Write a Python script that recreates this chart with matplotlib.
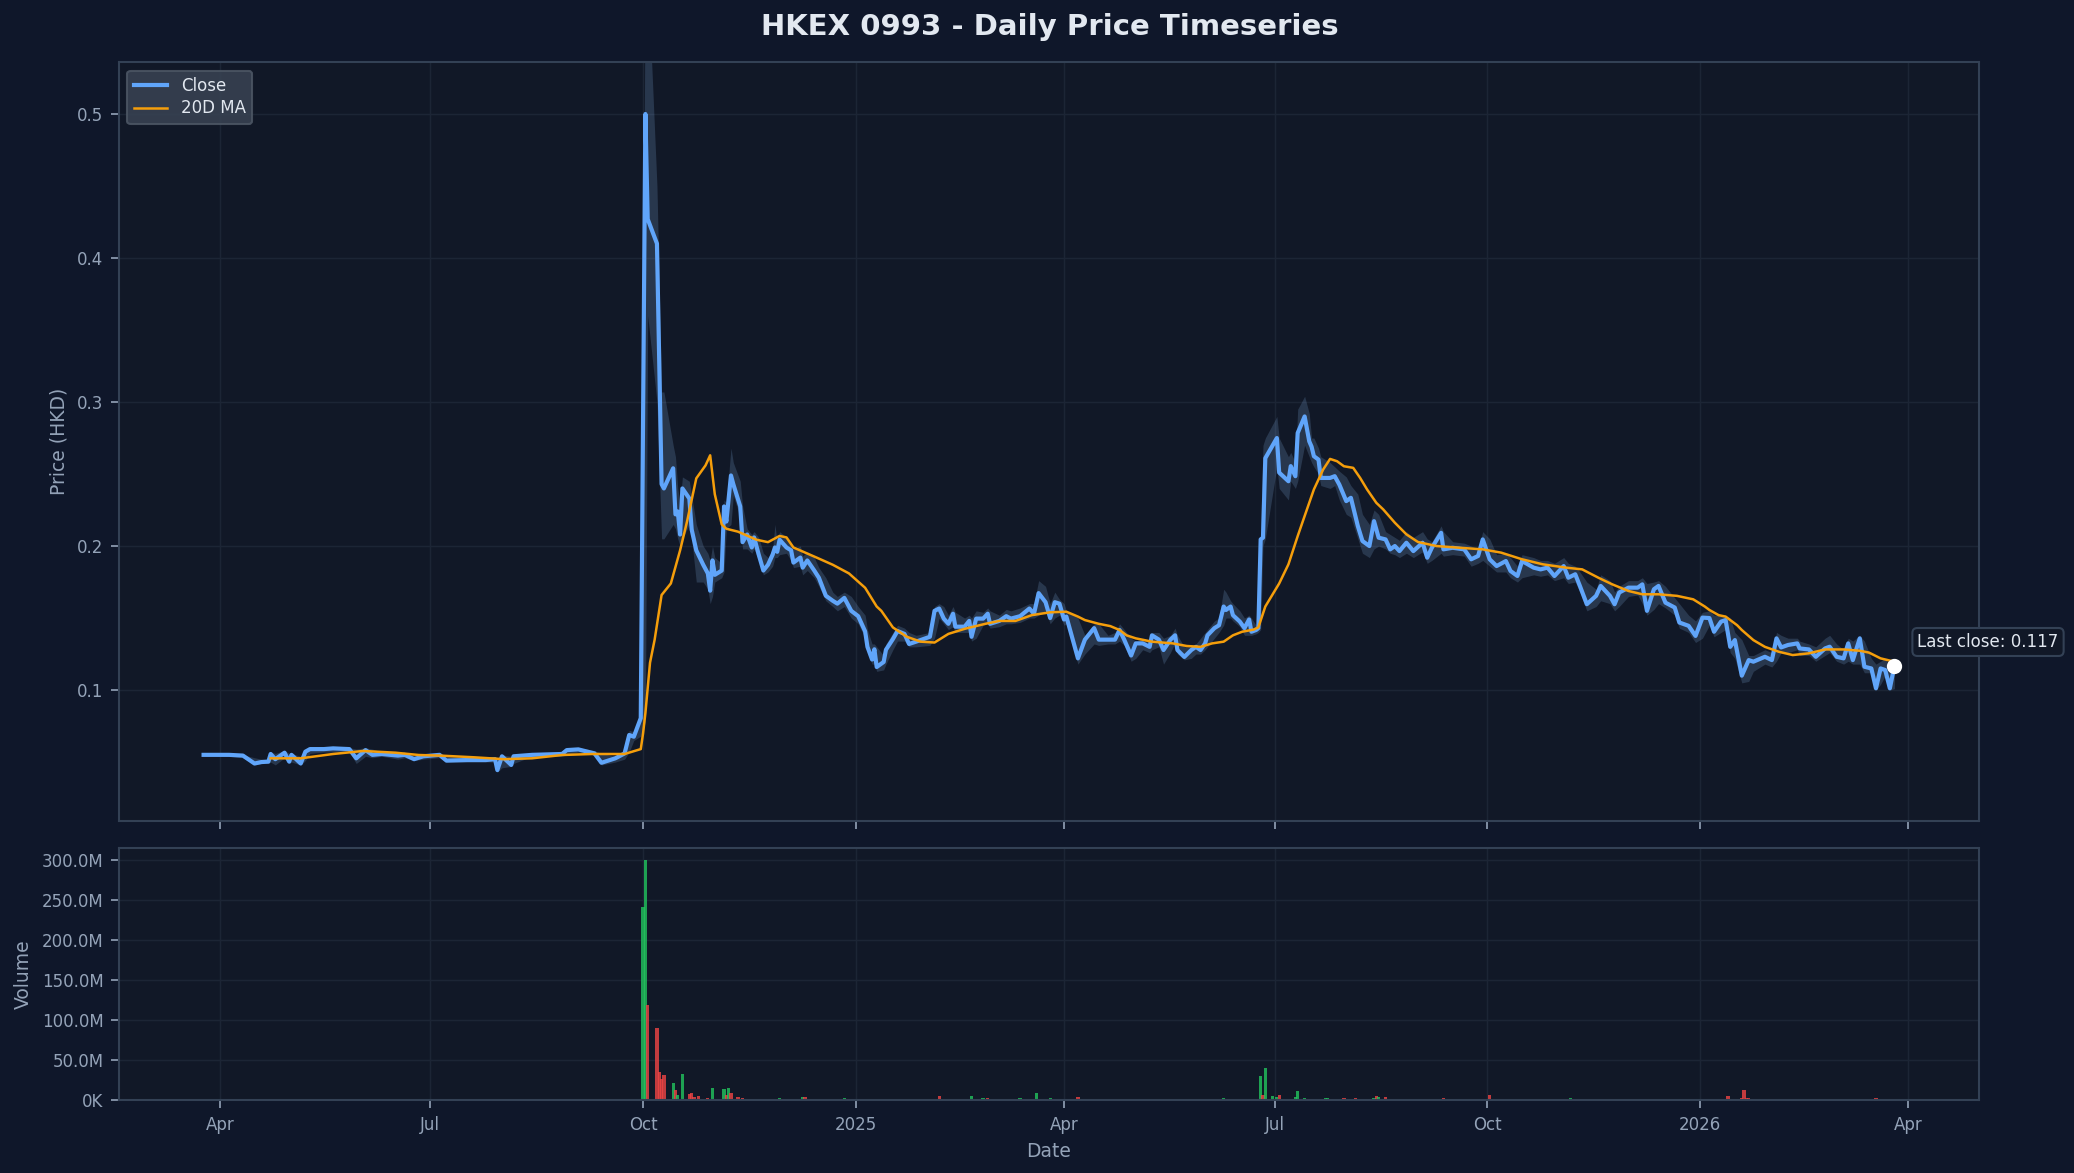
import matplotlib
matplotlib.use("Agg")
import matplotlib.pyplot as plt
import matplotlib.dates as mdates
from matplotlib.ticker import FuncFormatter
import numpy as np
import pandas as pd

# ---------------------------------------------------------------------------
# Data (HKD, volume in millions of shares)

price_dates = [
    "2024-03-25", "2024-04-05", "2024-04-11", "2024-04-16", "2024-04-19", "2024-04-22", "2024-04-23", "2024-04-25", "2024-04-29",
    "2024-05-01", "2024-05-02", "2024-05-06", "2024-05-08", "2024-05-10", "2024-05-16", "2024-05-20", "2024-05-27", "2024-05-30",
    "2024-06-03", "2024-06-06", "2024-06-10", "2024-06-17", "2024-06-20", "2024-06-24", "2024-06-28",
    "2024-07-05", "2024-07-08", "2024-07-17", "2024-07-25", "2024-07-29", "2024-07-30",
    "2024-08-01", "2024-08-05", "2024-08-06", "2024-08-14", "2024-08-27", "2024-08-29",
    "2024-09-03", "2024-09-10", "2024-09-13", "2024-09-19", "2024-09-23", "2024-09-25", "2024-09-27", "2024-09-30",
    "2024-10-02", "2024-10-03", "2024-10-07", "2024-10-09", "2024-10-10", "2024-10-14", "2024-10-15", "2024-10-16", "2024-10-17",
    "2024-10-18", "2024-10-21", "2024-10-22", "2024-10-24", "2024-10-27", "2024-10-29", "2024-10-30", "2024-10-31",
    "2024-11-01", "2024-11-04", "2024-11-05", "2024-11-06", "2024-11-08", "2024-11-09", "2024-11-12", "2024-11-13", "2024-11-15",
    "2024-11-17", "2024-11-18", "2024-11-20", "2024-11-22", "2024-11-24", "2024-11-26", "2024-11-27", "2024-11-28", "2024-11-29",
    "2024-12-02", "2024-12-04", "2024-12-05", "2024-12-08", "2024-12-09", "2024-12-11", "2024-12-14", "2024-12-16", "2024-12-19",
    "2024-12-22", "2024-12-24", "2024-12-27", "2024-12-30",
    "2025-01-02", "2025-01-05", "2025-01-06", "2025-01-08", "2025-01-09", "2025-01-10", "2025-01-13", "2025-01-14", "2025-01-17",
    "2025-01-19", "2025-01-22", "2025-01-24", "2025-01-27",
    "2025-02-02", "2025-02-04", "2025-02-06", "2025-02-08", "2025-02-10", "2025-02-12", "2025-02-13", "2025-02-17", "2025-02-19",
    "2025-02-20", "2025-02-22", "2025-02-25", "2025-02-27", "2025-02-28",
    "2025-03-04", "2025-03-07", "2025-03-09", "2025-03-13", "2025-03-17", "2025-03-19", "2025-03-21", "2025-03-24", "2025-03-26",
    "2025-03-28", "2025-03-30",
    "2025-04-01", "2025-04-02", "2025-04-07", "2025-04-10", "2025-04-14", "2025-04-16", "2025-04-20", "2025-04-23", "2025-04-25",
    "2025-04-27", "2025-04-30",
    "2025-05-02", "2025-05-05", "2025-05-08", "2025-05-09", "2025-05-12", "2025-05-14", "2025-05-17", "2025-05-19", "2025-05-20",
    "2025-05-23", "2025-05-26", "2025-05-28", "2025-05-30",
    "2025-06-01", "2025-06-02", "2025-06-05", "2025-06-07", "2025-06-09", "2025-06-10", "2025-06-12", "2025-06-13", "2025-06-16",
    "2025-06-18", "2025-06-20", "2025-06-21", "2025-06-23", "2025-06-24", "2025-06-25", "2025-06-26", "2025-06-27",
    "2025-07-02", "2025-07-03", "2025-07-07", "2025-07-08", "2025-07-10", "2025-07-11", "2025-07-14", "2025-07-16", "2025-07-17",
    "2025-07-18", "2025-07-20", "2025-07-21", "2025-07-25", "2025-07-27", "2025-07-29",
    "2025-08-01", "2025-08-03", "2025-08-06", "2025-08-08", "2025-08-11", "2025-08-13", "2025-08-15", "2025-08-18", "2025-08-20",
    "2025-08-22", "2025-08-24", "2025-08-27", "2025-08-30",
    "2025-09-03", "2025-09-05", "2025-09-07", "2025-09-11", "2025-09-12", "2025-09-16", "2025-09-21", "2025-09-24", "2025-09-27",
    "2025-09-29",
    "2025-10-02", "2025-10-05", "2025-10-09", "2025-10-11", "2025-10-14", "2025-10-16", "2025-10-21", "2025-10-24", "2025-10-27",
    "2025-10-30",
    "2025-11-03", "2025-11-05", "2025-11-08", "2025-11-10", "2025-11-13", "2025-11-17", "2025-11-19", "2025-11-23", "2025-11-25",
    "2025-11-27",
    "2025-12-01", "2025-12-05", "2025-12-07", "2025-12-09", "2025-12-12", "2025-12-14", "2025-12-17", "2025-12-21", "2025-12-23",
    "2025-12-27", "2025-12-30",
    "2026-01-02", "2026-01-05", "2026-01-07", "2026-01-10", "2026-01-12", "2026-01-14", "2026-01-16", "2026-01-19", "2026-01-22",
    "2026-01-24", "2026-01-29",
    "2026-02-01", "2026-02-03", "2026-02-05", "2026-02-08", "2026-02-12", "2026-02-13", "2026-02-17", "2026-02-20", "2026-02-24",
    "2026-02-26",
    "2026-03-01", "2026-03-04", "2026-03-06", "2026-03-08", "2026-03-11", "2026-03-13", "2026-03-16", "2026-03-18", "2026-03-20",
    "2026-03-22", "2026-03-24", "2026-03-26",
]

close = [
    0.055, 0.055, 0.0545, 0.049, 0.050, 0.0503, 0.0556, 0.052, 0.0565,
    0.0503, 0.055, 0.049, 0.0572, 0.059, 0.059, 0.0595, 0.059, 0.0526,
    0.0583, 0.055, 0.0556, 0.0545, 0.055, 0.052, 0.054,
    0.055, 0.051, 0.0514, 0.0514, 0.052, 0.0444,
    0.054, 0.048, 0.054, 0.055, 0.0556, 0.0583,
    0.0588, 0.056, 0.0495, 0.0526, 0.056, 0.0688, 0.0676, 0.0805,
    0.500, 0.427, 0.410, 0.243, 0.240, 0.254, 0.222, 0.224, 0.208,
    0.240, 0.233, 0.2115, 0.197, 0.187, 0.181, 0.169, 0.190,
    0.180, 0.183, 0.2275, 0.217, 0.249, 0.243, 0.2275, 0.2027, 0.208,
    0.199, 0.206, 0.194, 0.183, 0.187, 0.194, 0.199, 0.196, 0.2044,
    0.199, 0.197, 0.1885, 0.192, 0.185, 0.190, 0.183, 0.178, 0.1655,
    0.162, 0.160, 0.164, 0.155,
    0.1513, 0.1407, 0.130, 0.1212, 0.1283, 0.116, 0.1195, 0.128, 0.1354,
    0.141, 0.139, 0.132, 0.1336,
    0.137, 0.155, 0.1566, 0.1496, 0.146, 0.153, 0.144, 0.144, 0.148,
    0.137, 0.1496, 0.1496, 0.153, 0.146,
    0.148, 0.1513, 0.1496, 0.1513, 0.1566, 0.153, 0.1673, 0.161, 0.150,
    0.161, 0.160,
    0.149, 0.151, 0.122, 0.135, 0.143, 0.135, 0.135, 0.135, 0.1417,
    0.135, 0.124,
    0.1324, 0.1324, 0.130, 0.138, 0.135, 0.1278, 0.135, 0.138, 0.1278,
    0.123, 0.1278, 0.130, 0.1278,
    0.1324, 0.138, 0.143, 0.145, 0.158, 0.1556, 0.158, 0.152, 0.1475,
    0.143, 0.149, 0.1405, 0.1417, 0.143, 0.2046, 0.2058, 0.261,
    0.275, 0.251, 0.245, 0.2555, 0.2485, 0.2785, 0.290, 0.2727, 0.269,
    0.2624, 0.260, 0.2473, 0.2473, 0.2485, 0.2427,
    0.2312, 0.2335, 0.2139, 0.2035, 0.200, 0.2173, 0.2058, 0.2046, 0.1977,
    0.200, 0.1965, 0.2023, 0.1965,
    0.2023, 0.1919, 0.1988, 0.2092, 0.1977, 0.1988, 0.1977, 0.1908, 0.1931,
    0.2046,
    0.1908, 0.1861, 0.1896, 0.1827, 0.1792, 0.1896, 0.185, 0.1838, 0.185,
    0.1792,
    0.1861, 0.178, 0.1804, 0.1723, 0.1596, 0.1654, 0.1723, 0.1654, 0.1596,
    0.1677,
    0.1711, 0.1711, 0.1734, 0.155, 0.170, 0.1723, 0.1607, 0.1573, 0.1469,
    0.1446, 0.1376,
    0.1503, 0.150, 0.1405, 0.1475, 0.1486, 0.130, 0.1347, 0.110, 0.1208,
    0.1197, 0.1231,
    0.1208, 0.1359, 0.1296, 0.1313, 0.1324, 0.1289, 0.1282, 0.1231, 0.1289,
    0.1301,
    0.1231, 0.122, 0.1324, 0.1208, 0.1359, 0.1162, 0.115, 0.1012, 0.115,
    0.1139, 0.1012, 0.117,
]

high = [
    0.0555, 0.056, 0.055, 0.053, 0.052, 0.052, 0.057, 0.056, 0.058,
    0.056, 0.056, 0.054, 0.058, 0.060, 0.060, 0.060, 0.060, 0.059,
    0.060, 0.059, 0.057, 0.056, 0.056, 0.055, 0.055,
    0.056, 0.055, 0.053, 0.052, 0.053, 0.052,
    0.055, 0.054, 0.055, 0.056, 0.057, 0.059,
    0.060, 0.058, 0.056, 0.054, 0.057, 0.072, 0.071, 0.083,
    0.620, 0.600, 0.450, 0.307, 0.307, 0.270, 0.262, 0.240, 0.230,
    0.248, 0.245, 0.235, 0.215, 0.200, 0.195, 0.190, 0.200,
    0.192, 0.188, 0.232, 0.230, 0.268, 0.258, 0.245, 0.228, 0.212,
    0.208, 0.210, 0.206, 0.195, 0.192, 0.198, 0.215, 0.202, 0.210,
    0.206, 0.200, 0.198, 0.200, 0.193, 0.196, 0.192, 0.185, 0.178,
    0.168, 0.165, 0.168, 0.165,
    0.158, 0.152, 0.142, 0.132, 0.132, 0.130, 0.124, 0.132, 0.140,
    0.145, 0.143, 0.140, 0.138,
    0.140, 0.158, 0.160, 0.158, 0.152, 0.158, 0.154, 0.150, 0.152,
    0.150, 0.155, 0.154, 0.157, 0.155,
    0.152, 0.156, 0.155, 0.157, 0.160, 0.160, 0.176, 0.172, 0.160,
    0.168, 0.163,
    0.160, 0.155, 0.150, 0.138, 0.146, 0.146, 0.138, 0.140, 0.146,
    0.142, 0.136,
    0.134, 0.136, 0.134, 0.140, 0.140, 0.136, 0.138, 0.143, 0.138,
    0.130, 0.130, 0.132, 0.136,
    0.140, 0.142, 0.148, 0.150, 0.170, 0.168, 0.162, 0.160, 0.155,
    0.150, 0.152, 0.150, 0.145, 0.146, 0.215, 0.270, 0.275,
    0.290, 0.275, 0.262, 0.265, 0.258, 0.295, 0.304, 0.292, 0.275,
    0.275, 0.268, 0.262, 0.258, 0.255, 0.252,
    0.248, 0.242, 0.236, 0.222, 0.215, 0.225, 0.222, 0.210, 0.208,
    0.206, 0.204, 0.210, 0.206,
    0.210, 0.205, 0.203, 0.214, 0.210, 0.203, 0.202, 0.200, 0.198,
    0.210,
    0.205, 0.194, 0.195, 0.192, 0.186, 0.194, 0.192, 0.190, 0.190,
    0.188,
    0.192, 0.188, 0.186, 0.182, 0.175, 0.170, 0.180, 0.176, 0.168,
    0.172,
    0.176, 0.176, 0.178, 0.174, 0.175, 0.176, 0.172, 0.164, 0.160,
    0.152, 0.148,
    0.154, 0.155, 0.152, 0.152, 0.152, 0.150, 0.140, 0.135, 0.124,
    0.124, 0.128,
    0.126, 0.140, 0.138, 0.136, 0.136, 0.134, 0.132, 0.130, 0.136,
    0.138,
    0.132, 0.128, 0.136, 0.134, 0.138, 0.134, 0.122, 0.118, 0.120,
    0.122, 0.116, 0.120,
]

low = [
    0.0545, 0.054, 0.053, 0.048, 0.049, 0.049, 0.050, 0.048, 0.053,
    0.049, 0.050, 0.048, 0.051, 0.056, 0.057, 0.057, 0.057, 0.049,
    0.054, 0.053, 0.054, 0.052, 0.053, 0.051, 0.052,
    0.053, 0.050, 0.050, 0.050, 0.050, 0.043,
    0.046, 0.047, 0.049, 0.054, 0.054, 0.055,
    0.057, 0.055, 0.048, 0.050, 0.052, 0.057, 0.065, 0.068,
    0.078, 0.360, 0.300, 0.205, 0.205, 0.215, 0.212, 0.205, 0.200,
    0.205, 0.215, 0.205, 0.175, 0.175, 0.170, 0.160, 0.165,
    0.175, 0.178, 0.182, 0.212, 0.215, 0.235, 0.220, 0.198, 0.198,
    0.195, 0.198, 0.190, 0.180, 0.182, 0.186, 0.192, 0.192, 0.194,
    0.195, 0.190, 0.185, 0.186, 0.180, 0.183, 0.178, 0.172, 0.162,
    0.158, 0.155, 0.158, 0.150,
    0.146, 0.136, 0.126, 0.118, 0.118, 0.113, 0.114, 0.118, 0.128,
    0.134, 0.134, 0.130, 0.130,
    0.131, 0.136, 0.150, 0.146, 0.142, 0.144, 0.140, 0.140, 0.140,
    0.134, 0.136, 0.145, 0.146, 0.143,
    0.144, 0.146, 0.146, 0.147, 0.150, 0.150, 0.152, 0.155, 0.146,
    0.150, 0.152,
    0.145, 0.146, 0.118, 0.125, 0.132, 0.131, 0.132, 0.132, 0.134,
    0.131, 0.120,
    0.122, 0.128, 0.126, 0.128, 0.130, 0.118, 0.126, 0.133, 0.125,
    0.121, 0.122, 0.125, 0.125,
    0.128, 0.130, 0.136, 0.140, 0.145, 0.150, 0.150, 0.148, 0.144,
    0.138, 0.138, 0.138, 0.139, 0.140, 0.142, 0.200, 0.205,
    0.255, 0.240, 0.232, 0.245, 0.240, 0.245, 0.270, 0.262, 0.258,
    0.255, 0.250, 0.242, 0.240, 0.242, 0.232,
    0.222, 0.220, 0.205, 0.195, 0.192, 0.198, 0.200, 0.198, 0.195,
    0.194, 0.192, 0.195, 0.192,
    0.196, 0.188, 0.190, 0.195, 0.193, 0.194, 0.193, 0.186, 0.188,
    0.190,
    0.186, 0.182, 0.182, 0.178, 0.175, 0.178, 0.180, 0.179, 0.180,
    0.176,
    0.178, 0.174, 0.175, 0.168, 0.155, 0.158, 0.162, 0.160, 0.155,
    0.158,
    0.165, 0.166, 0.160, 0.152, 0.156, 0.160, 0.157, 0.152, 0.143,
    0.140, 0.133,
    0.136, 0.145, 0.137, 0.140, 0.142, 0.126, 0.122, 0.105, 0.106,
    0.113, 0.118,
    0.116, 0.120, 0.126, 0.126, 0.128, 0.124, 0.124, 0.120, 0.124,
    0.126,
    0.120, 0.118, 0.120, 0.118, 0.118, 0.112, 0.112, 0.100, 0.104,
    0.110, 0.100, 0.101,
]

ma_dates = [
    "2024-04-23", "2024-05-06", "2024-05-20", "2024-06-02", "2024-06-16", "2024-06-26", "2024-07-05", "2024-07-20",
    "2024-08-02", "2024-08-14", "2024-08-27", "2024-09-09", "2024-09-23", "2024-09-30", "2024-10-01", "2024-10-02",
    "2024-10-04", "2024-10-06", "2024-10-09", "2024-10-13", "2024-10-17", "2024-10-20", "2024-10-24", "2024-10-28",
    "2024-10-30", "2024-11-01", "2024-11-04", "2024-11-06", "2024-11-11", "2024-11-19", "2024-11-24", "2024-11-29",
    "2024-12-02", "2024-12-05", "2024-12-15", "2024-12-22", "2024-12-29", "2025-01-05", "2025-01-10", "2025-01-12",
    "2025-01-17", "2025-01-23", "2025-01-29", "2025-02-04", "2025-02-10", "2025-02-17", "2025-02-26", "2025-03-04",
    "2025-03-11", "2025-03-18", "2025-03-26", "2025-04-02", "2025-04-07", "2025-04-10", "2025-04-16", "2025-04-21",
    "2025-04-25", "2025-04-28", "2025-05-02", "2025-05-09", "2025-05-18", "2025-05-24", "2025-05-30", "2025-06-04",
    "2025-06-09", "2025-06-13", "2025-06-17", "2025-06-22", "2025-06-24", "2025-06-27", "2025-07-03", "2025-07-07",
    "2025-07-11", "2025-07-13", "2025-07-18", "2025-07-22", "2025-07-25", "2025-07-28", "2025-07-31", "2025-08-04",
    "2025-08-07", "2025-08-10", "2025-08-14", "2025-08-17", "2025-08-22", "2025-08-27", "2025-09-01", "2025-09-09",
    "2025-09-19", "2025-09-29", "2025-10-07", "2025-10-16", "2025-10-25", "2025-11-04", "2025-11-11", "2025-11-18",
    "2025-11-24", "2025-12-01", "2025-12-07", "2025-12-14", "2025-12-22", "2025-12-29", "2026-01-03", "2026-01-05",
    "2026-01-09", "2026-01-12", "2026-01-17", "2026-01-19", "2026-01-24", "2026-01-29", "2026-02-04", "2026-02-10",
    "2026-02-17", "2026-02-24", "2026-03-04", "2026-03-11", "2026-03-15", "2026-03-20", "2026-03-26",
]

ma20 = [
    0.0526, 0.0526, 0.0556, 0.0577, 0.0565, 0.0549, 0.0545, 0.0533,
    0.0520, 0.0526, 0.0549, 0.0556, 0.0556, 0.0590, 0.0700, 0.0840,
    0.119, 0.135, 0.166, 0.174, 0.197, 0.217, 0.247, 0.256,
    0.263, 0.236, 0.215, 0.212, 0.210, 0.2044, 0.2027, 0.207,
    0.206, 0.199, 0.192, 0.187, 0.181, 0.171, 0.158, 0.155,
    0.1435, 0.137, 0.1336, 0.133, 0.139, 0.1425, 0.146, 0.148,
    0.148, 0.152, 0.154, 0.1544, 0.151, 0.1486, 0.146, 0.1444,
    0.1417, 0.138, 0.1359, 0.1336, 0.1324, 0.1306, 0.130, 0.1324,
    0.1336, 0.138, 0.1405, 0.142, 0.1435, 0.158, 0.174, 0.1873,
    0.2069, 0.2162, 0.2393, 0.2531, 0.2605, 0.2589, 0.2554, 0.2543,
    0.2473, 0.2393, 0.230, 0.2254, 0.2162, 0.2081, 0.2028, 0.200,
    0.1988, 0.1977, 0.1954, 0.1908, 0.1873, 0.185, 0.1838, 0.178,
    0.1734, 0.1688, 0.1665, 0.1665, 0.1654, 0.163, 0.158, 0.1556,
    0.152, 0.151, 0.145, 0.1417, 0.1347, 0.130, 0.1266, 0.1243,
    0.1255, 0.1282, 0.1282, 0.1273, 0.126, 0.122, 0.1197,
]

vol_dates = [
    "2024-10-01", "2024-10-02", "2024-10-03", "2024-10-07", "2024-10-08", "2024-10-09", "2024-10-10", "2024-10-14",
    "2024-10-15", "2024-10-16", "2024-10-18", "2024-10-21", "2024-10-22", "2024-10-23", "2024-10-25", "2024-10-28",
    "2024-10-29", "2024-10-31", "2024-11-01", "2024-11-05", "2024-11-06", "2024-11-07", "2024-11-08", "2024-11-11",
    "2024-11-13", "2024-11-14", "2024-11-29", "2024-12-05", "2024-12-09", "2024-12-10", "2024-12-18", "2024-12-23",
    "2024-12-27", "2025-02-03", "2025-02-06", "2025-02-18", "2025-02-20", "2025-02-24", "2025-02-25", "2025-02-27",
    "2025-03-06", "2025-03-13", "2025-03-20", "2025-03-26", "2025-04-07", "2025-06-09", "2025-06-12", "2025-06-25",
    "2025-06-26", "2025-06-27", "2025-06-30", "2025-07-02", "2025-07-03", "2025-07-08", "2025-07-10", "2025-07-11",
    "2025-07-14", "2025-07-16", "2025-07-18", "2025-07-23", "2025-07-24", "2025-07-31", "2025-08-04", "2025-08-05",
    "2025-08-07", "2025-08-13", "2025-08-14", "2025-08-15", "2025-08-18", "2025-09-11", "2025-09-12", "2025-10-02",
    "2025-11-06", "2026-01-12", "2026-01-13", "2026-01-19", "2026-01-20", "2026-01-21", "2026-01-22", "2026-03-13",
    "2026-03-17", "2026-03-18",
]

volume_m = [
    241, 300, 119, 90, 35, 26, 31, 21,
    12.5, 6, 33, 7.5, 8.3, 3.3, 5, 1.2,
    2, 14.6, 0.8, 13.3, 6, 14.6, 8.3, 3.3,
    2.5, 1.2, 2.5, 1.2, 3.3, 3.3, 1.2, 1.2,
    2.5, 1.2, 5, 1.2, 5, 1.2, 2.5, 2.5,
    1.2, 2.5, 9, 2.5, 3.8, 2.5, 1.2, 30.5,
    6.7, 40.5, 5.4, 3.3, 6.7, 1.7, 4.2, 11.7,
    2.9, 1.7, 1.7, 2.9, 2.9, 2.9, 1.7, 2.9,
    1.7, 2.5, 5.4, 3.8, 4.2, 1.3, 2.9, 6.7,
    2.9, 1.7, 4.6, 2.5, 13, 2.5, 2.5, 1.7,
    1.7, 2.5,
]

vol_up = [
    1, 1, 0, 0, 0, 0, 0, 1,
    0, 1, 1, 0, 0, 0, 0, 0,
    0, 1, 0, 1, 0, 1, 0, 0,
    0, 0, 1, 0, 1, 0, 0, 0,
    1, 1, 0, 0, 1, 0, 1, 0,
    1, 1, 1, 1, 0, 1, 0, 1,
    0, 1, 1, 1, 0, 0, 1, 1,
    1, 0, 0, 1, 1, 0, 0, 0,
    0, 1, 0, 1, 0, 0, 0, 0,
    1, 0, 0, 0, 0, 0, 0, 0,
    1, 0,
]

# ---------------------------------------------------------------------------
# Colours
BG = "#0f172a"
AX_BG = "#111827"
SPINE = "#334155"
GRID = "#1c2535"
TXT = "#94a3b8"
LIGHT = "#e2e8f0"
C_CLOSE = "#60a5fa"
C_MA = "#f59e0b"
C_UP = "#22c55e"
C_DOWN = "#ef4444"

pdates = pd.to_datetime(price_dates)
mdts = pd.to_datetime(ma_dates)
vdts = pd.to_datetime(vol_dates)
close = np.array(close)
vols = np.array(volume_m) * 1e6
vcols = [C_UP if u else C_DOWN for u in vol_up]

fig = plt.figure(figsize=(2074 / 150, 1173 / 150), dpi=150, facecolor=BG)
ax = fig.add_axes([0.0574, 0.300, 0.8968, 0.647])
axv = fig.add_axes([0.0574, 0.0622, 0.8968, 0.2149], sharex=ax)

for a in (ax, axv):
    a.set_facecolor(AX_BG)
    for s in a.spines.values():
        s.set_color(SPINE)
        s.set_linewidth(1.0)
    a.tick_params(colors=TXT, labelsize=8, length=4, width=0.8)
    a.grid(True, color=GRID, lw=0.7)
    a.set_axisbelow(True)

## Price panel
ax.fill_between(pdates, low, high, color="#93c5fd", alpha=0.18, lw=0)
ax.plot(pdates, close, color=C_CLOSE, lw=2.0, label="Close")
ax.plot(mdts, ma20, color=C_MA, lw=1.2, label="20D MA")
ax.scatter([pdates[-1]], [close[-1]], s=40, color="white", zorder=5)
ax.annotate("Last close: {:.3f}".format(close[-1]), xy=(pdates[-1], close[-1]),
            xytext=(11, 7), textcoords="offset points", fontsize=8, color=LIGHT,
            ha="left", va="bottom",
            bbox=dict(boxstyle="round,pad=0.3", fc=AX_BG, ec=SPINE, lw=1.0))
ax.set_ylim(0.009, 0.536)
ax.set_ylabel("Price (HKD)", color=TXT, fontsize=9)
ax.tick_params(labelbottom=False)

leg = ax.legend(loc="upper left", fontsize=8, facecolor="#374151", edgecolor="#4b5563",
                framealpha=0.9, labelcolor=LIGHT, labelspacing=0.25)

## Volume panel
axv.bar(vdts, vols, width=1.4, color=vcols, alpha=0.8, lw=0)
axv.yaxis.set_major_formatter(FuncFormatter(
    lambda v, _: "{:.1f}M".format(v / 1e6) if v >= 1e6 else "{:.0f}K".format(v / 1e3)))
axv.set_ylabel("Volume", color=TXT, fontsize=9)
axv.set_xlabel("Date", color=TXT, fontsize=9)

loc = mdates.MonthLocator(bymonth=[1, 4, 7, 10])
axv.xaxis.set_major_locator(loc)
axv.xaxis.set_major_formatter(mdates.ConciseDateFormatter(loc))

fig.text(0.506, 0.977, "HKEX 0993 - Daily Price Timeseries", ha="center", va="center",
         fontsize=14, fontweight="bold", color=LIGHT)

fig.savefig("out.png", dpi=150, facecolor=BG)
